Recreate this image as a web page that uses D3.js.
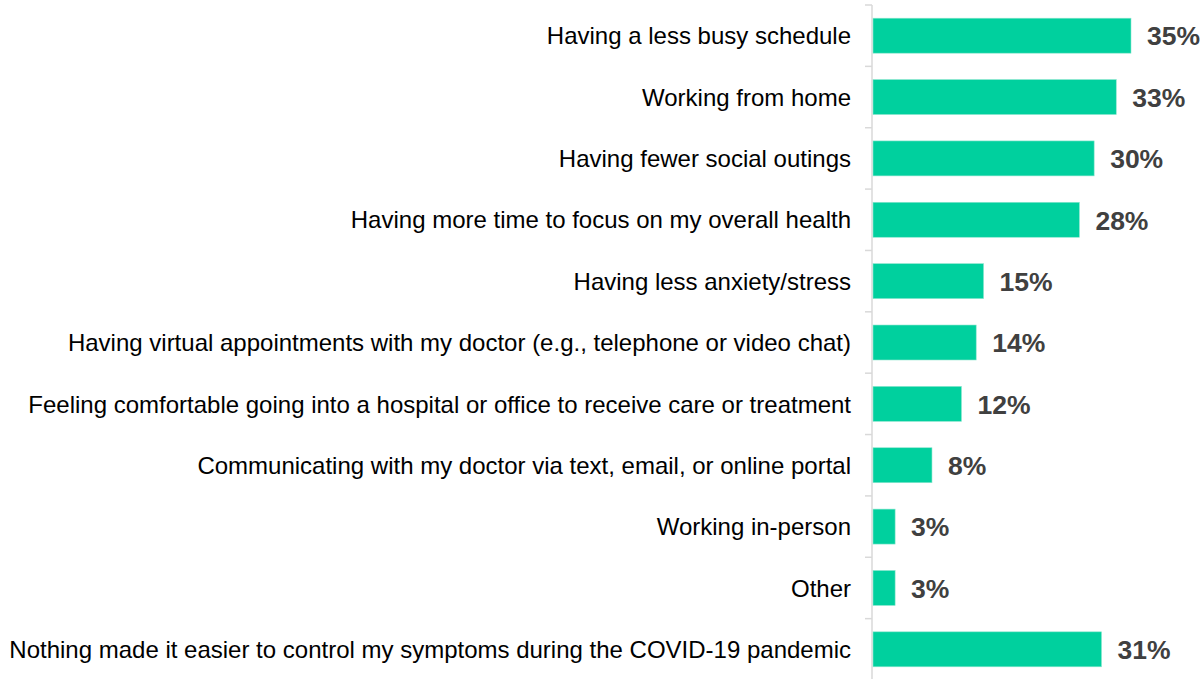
<!DOCTYPE html>
<html>
<head>
<meta charset="utf-8">
<script src="https://cdn.jsdelivr.net/npm/d3@7"></script>
<style>
    body { margin: 0; background: white; }
    svg { display: block; }
</style>
</head>
<body>
<div id="chart"></div>
<script>
const categories = [
    "Having a less busy schedule",
    "Working from home",
    "Having fewer social outings",
    "Having more time to focus on my overall health",
    "Having less anxiety/stress",
    "Having virtual appointments with my doctor (e.g., telephone or video chat)",
    "Feeling comfortable going into a hospital or office to receive care or treatment",
    "Communicating with my doctor via text, email, or online portal",
    "Working in-person",
    "Other",
    "Nothing made it easier to control my symptoms during the COVID-19 pandemic"
];
const values = [35, 33, 30, 28, 15, 14, 12, 8, 3, 3, 31];

const width = 1204, height = 679;
const axis_x = 872;
const plot_top = 5, plot_bottom = 680;
const bar_color = "#00d09e";
const label_color = "#404040";

var svg = d3.select("#chart")
    .append("svg")
    .attr("width", width)
    .attr("height", height);

var y = d3.scaleBand()
    .domain(categories)
    .range([plot_top, plot_bottom])
    .paddingInner(0.43)
    .paddingOuter(0.215);

var x = d3.scaleLinear()
    .domain([0, 35])
    .range([axis_x, axis_x + 258]);

// category axis: light grey line with outward ticks between bands
var band_step = y.step();
svg.append("line")
    .attr("x1", axis_x).attr("x2", axis_x)
    .attr("y1", plot_top).attr("y2", plot_bottom)
    .attr("stroke", "#d9d9d9")
    .attr("stroke-width", 1.5);

svg.selectAll("line.tick")
    .data(d3.range(categories.length + 1))
    .enter()
    .append("line")
    .attr("class", "tick")
    .attr("x1", axis_x - 7).attr("x2", axis_x)
    .attr("y1", d => plot_top + d * band_step)
    .attr("y2", d => plot_top + d * band_step)
    .attr("stroke", "#d9d9d9")
    .attr("stroke-width", 1.5);

svg.selectAll("rect.bar")
    .data(values)
    .enter()
    .append("rect")
    .attr("class", "bar")
    .attr("x", x(0) + 1)
    .attr("y", (d, i) => y(categories[i]))
    .attr("width", d => x(d) - x(0))
    .attr("height", y.bandwidth())
    .attr("fill", bar_color)
    .attr("stroke", "#8ee6cf")
    .attr("stroke-width", 0.6);

svg.selectAll("text.cat")
    .data(categories)
    .enter()
    .append("text")
    .attr("class", "cat")
    .attr("x", axis_x - 21)
    .attr("y", d => y(d) + y.bandwidth() / 2)
    .attr("dy", "0.36em")
    .attr("text-anchor", "end")
    .style("font-family", "Arial, 'Liberation Sans', sans-serif")
    .style("font-size", "24px")
    .style("fill", "black")
    .text(d => d);

svg.selectAll("text.val")
    .data(values)
    .enter()
    .append("text")
    .attr("class", "val")
    .attr("x", d => x(d) + 17)
    .attr("y", (d, i) => y(categories[i]) + y.bandwidth() / 2)
    .attr("dy", "0.37em")
    .style("font-family", "Arial, 'Liberation Sans', sans-serif")
    .style("font-size", "26.5px")
    .style("font-weight", "bold")
    .style("fill", label_color)
    .text(d => d + "%");
</script>
</body>
</html>
